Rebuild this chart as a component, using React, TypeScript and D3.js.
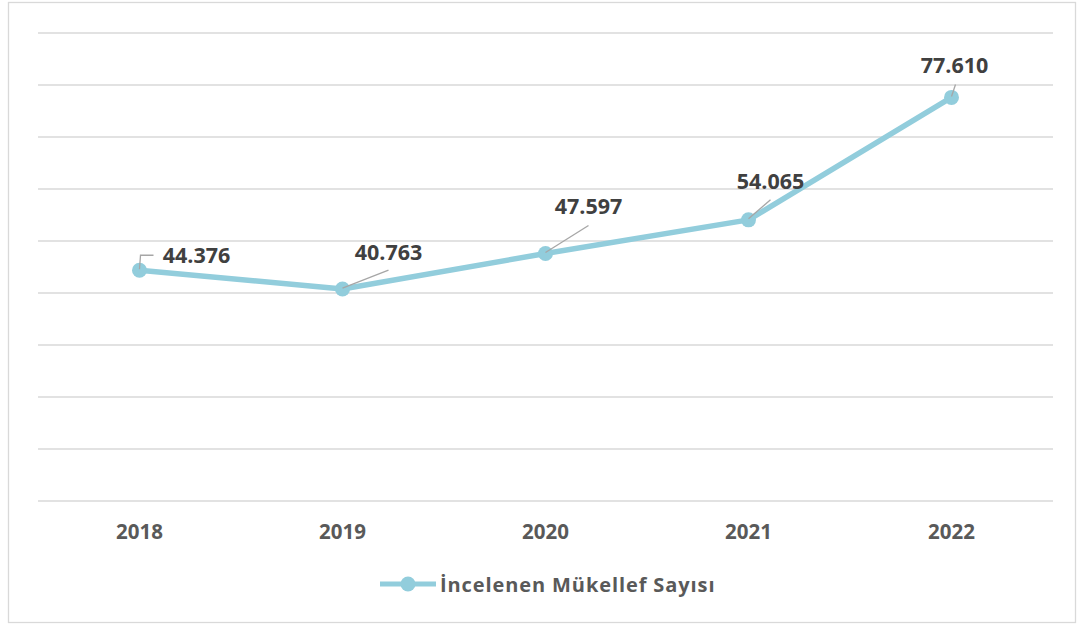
import React from 'react';
import * as d3 from 'd3';

const years = ['2018', '2019', '2020', '2021', '2022'];
const values = [44376, 40763, 47597, 54065, 77610];
const yTicks = [0, 10000, 20000, 30000, 40000, 50000, 60000, 70000, 80000, 90000];
const seriesName = 'İncelenen Mükellef Sayısı';

// label placement relative to each point: [label centre dx, baseline dy, leader end dx, leader end dy]
const labelPlacement = [
  [57, -7, 14, -15],
  [46, -29, 46, -19],
  [43, -39, 43, -28],
  [22, -31, 22, -20],
  [3, -24, 4, -13],
];

const width = 1082;
const height = 626;
const plot = { left: 38, right: 1053, top: 33, bottom: 501 };
const lineColor = '#92CDDC';
const font = '"Open Sans", "Noto Sans", sans-serif';

const fmt = (v: number) => d3.format(',')(v).replace(/,/g, '.');

export default function App() {
  const x = d3.scaleBand<string>().domain(years).range([plot.left, plot.right]);
  const y = d3.scaleLinear().domain([0, 90000]).range([plot.bottom, plot.top]);
  const cx = (yr: string) => (x(yr) as number) + x.bandwidth() / 2;

  const line = d3
    .line<number>()
    .x((_, i) => cx(years[i]))
    .y(d => y(d));

  return (
    <svg
      width={width}
      height={height}
      style={{ position: 'absolute', left: 0, top: 0, background: '#fff' }}
    >
      <rect x={8.5} y={2.5} width={1067} height={620} fill="#fff" stroke="#d9d9d9" strokeWidth={1.3} />
      {yTicks.map(t => (
        <line
          key={t}
          x1={plot.left}
          x2={plot.right}
          y1={y(t)}
          y2={y(t)}
          stroke="#d9d9d9"
          strokeWidth={1.4}
        />
      ))}
      {years.map(yr => (
        <text
          key={yr}
          x={cx(yr)}
          y={539}
          textAnchor="middle"
          fontFamily={font}
          fontWeight={700}
          fontSize={20.5}
          fill="#595959"
        >
          {yr}
        </text>
      ))}
      <path d={line(values) || ''} fill="none" stroke={lineColor} strokeWidth={5.5} strokeLinejoin="round" />
      {values.map((v, i) => {
        const px = cx(years[i]);
        const py = y(v);
        const [tdx, tdy, ldx, ldy] = labelPlacement[i];
        const leader =
          i === 0
            ? `M${px},${py - 1} L${px + 1},${py + ldy} L${px + ldx},${py + ldy}`
            : `M${px},${py - 1} L${px + ldx},${py + ldy}`;
        return (
          <g key={years[i]}>
            <circle cx={px} cy={py} r={7.5} fill={lineColor} />
            <path d={leader} fill="none" stroke="#a6a6a6" strokeWidth={1.3} />
            <text
              x={px + tdx}
              y={py + tdy}
              textAnchor="middle"
              fontFamily={font}
              fontWeight={700}
              fontSize={21.5}
              fill="#404040"
            >
              {fmt(v)}
            </text>
          </g>
        );
      })}
      <g>
        <line x1={380} x2={436} y1={584} y2={584} stroke={lineColor} strokeWidth={5} />
        <circle cx={408} cy={584} r={7.5} fill={lineColor} />
        <text x={440} y={592} fontFamily={font} fontWeight={700} fontSize={20} letterSpacing={0.9} fill="#595959">
          {seriesName}
        </text>
      </g>
    </svg>
  );
}
